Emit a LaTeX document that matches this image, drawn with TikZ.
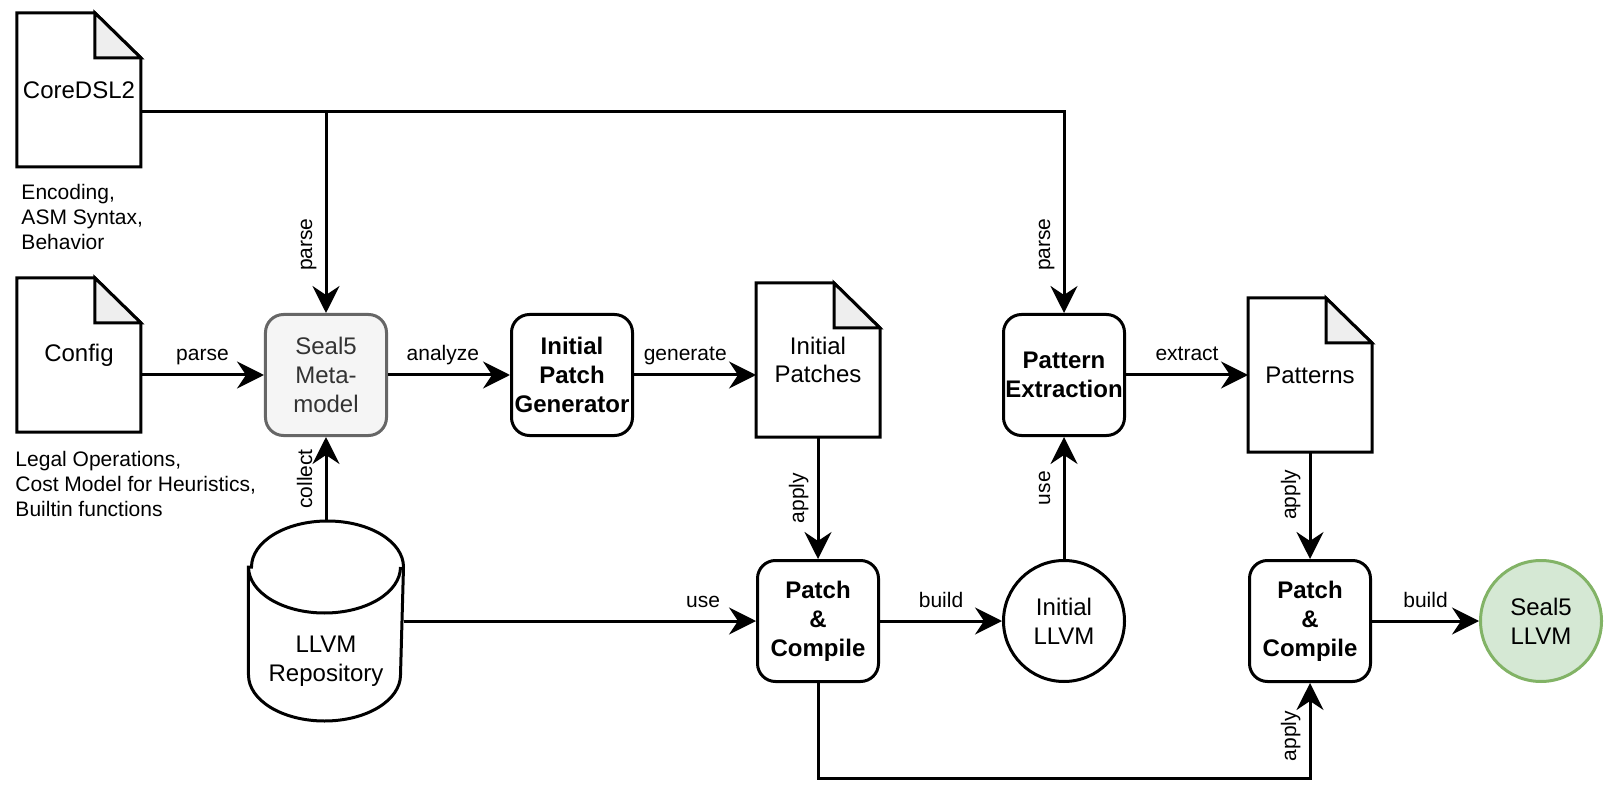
\documentclass[tikz,border=0pt]{standalone}
\usepackage{fontspec}
\setmainfont{Liberation Sans}
\usepackage{tikz}
\usetikzlibrary{positioning, arrows.meta}
\usepackage{xcolor}
\definecolor{metafill}{HTML}{F5F5F5}
\definecolor{metaline}{HTML}{666666}
\definecolor{metatext}{HTML}{333333}
\definecolor{greenfill}{HTML}{D5E8D4}
\definecolor{greenline}{HTML}{82B366}
\definecolor{foldgray}{HTML}{EEEEEE}
\newcommand{\bigfont}{\fontsize{24pt}{28.8pt}\selectfont}
\newcommand{\smallfont}{\fontsize{21pt}{25pt}\selectfont}

\begin{document}
\begin{tikzpicture}[node distance=246pt, ->, >={Stealth[length=27pt, width=27pt, inset=9pt]}, on grid, line width=3pt,
    proc/.style={draw, rounded corners=18pt, minimum width=121pt, minimum height=121pt, align=center, font=\bigfont\bfseries, inner sep=0pt},
    meta/.style={proc, fill=metafill, draw=metaline, text=metatext, font=\bigfont},
    doc/.style={minimum width=121pt, minimum height=151pt, align=center, font=\bigfont, inner sep=0pt},
    docline/.style={-, line join=miter},
    llvm/.style={circle, draw, minimum size=121pt, align=center, font=\bigfont, inner sep=0pt},
    result/.style={llvm, fill=greenfill, draw=greenline},
    repo/.style={minimum width=152pt, minimum height=197pt, inner sep=0pt},
    note/.style={align=left, font=\smallfont, inner sep=0pt, on grid=false},
    lbl/.style={font=\smallfont, text height=15pt, text depth=5pt, inner xsep=0pt, inner ysep=7.5pt, anchor=south},
    vlbl/.style={lbl, rotate=90}]
      \useasboundingbox (-326pt,375pt) rectangle (1298pt,-425pt);
      \node[meta] (meta) {Seal5\\Meta-\\model};
      \node[proc, right=of meta] (gen) {Initial\\Patch\\Generator};
      \node[doc, right=of gen, yshift=15pt] (ipatch) {Initial\\Patches};
      \node[proc, right=492pt of gen] (pext) {Pattern\\Extraction};
      \node[doc, right=of pext] (pat) {Patterns};
      \node[proc, below right=246pt and 246pt of gen] (pc1) {Patch\\\&\\Compile};
      \node[llvm, right=of pc1] (illvm) {Initial\\LLVM};
      \node[proc, right=of illvm] (pc2) {Patch\\\&\\Compile};
      \node[result, right=231pt of pc2] (sllvm) {Seal5\\LLVM};
      \node[repo, below=246pt of meta, label={[align=center, font=\bigfont, yshift=-40pt]center:{LLVM\\Repository}}] (repo) {};
      \node[doc, left=247pt of meta, yshift=20pt] (cfg) {Config};
      \node[doc, above=265pt of cfg] (core) {CoreDSL2};
      \node[note, below right=16pt and 3pt of core.south west] (corenote) {Encoding,\\ASM Syntax,\\Behavior};
      \node[note, below right=18pt and -3pt of cfg.south west] (cfgnote) {Legal Operations,\\Cost Model for Heuristics,\\Builtin functions};
      \foreach \d in {core, cfg, ipatch, pat} {
        \draw[docline] (\d.south west) -- (\d.north west) -- ([xshift=-46pt]\d.north east) -- ([yshift=-45pt]\d.north east) -- (\d.south east) -- cycle;
        \filldraw[docline, fill=foldgray] ([xshift=-46pt]\d.north east) -- ([xshift=-46pt, yshift=-45pt]\d.north east) -- ([yshift=-45pt]\d.north east) -- cycle;
      }
      \draw[docline] ([yshift=-46pt]repo.north west) -- ([yshift=46pt]repo.south west) arc[start angle=180, end angle=360, x radius=76pt, y radius=46pt] -- ([yshift=-46pt]repo.north east) arc[start angle=0, end angle=180, x radius=76pt, y radius=46pt] -- cycle;
      \draw[docline] ([yshift=-46pt]repo.north west) arc[start angle=180, end angle=360, x radius=76pt, y radius=46pt];
      \coordinate (coreout) at ([yshift=-22pt]core.east);
      \draw (coreout) -| node[vlbl, pos=0.83] {parse} (meta);
      \draw (coreout) -| node[vlbl, pos=0.83] {parse} (pext);
      \draw (cfg.east |- meta) -- node[lbl] {parse} (meta);
      \draw (meta) -- node[lbl, pos=0.45] {analyze} (gen);
      \draw (gen) -- node[lbl, pos=0.42] {generate} (gen -| ipatch.west);
      \draw (ipatch) -- node[vlbl] {apply} (pc1);
      \draw (repo) -- node[lbl, pos=0.85] {use} (pc1);
      \draw (repo) -- node[vlbl] {collect} (meta);
      \draw (pc1) -- node[lbl] {build} (illvm);
      \draw (illvm) -- node[vlbl, pos=0.58] {use} (pext);
      \draw (pext) -- node[lbl] {extract} (pat);
      \draw (pat) -- node[vlbl, pos=0.4] {apply} (pc2);
      \draw (pc2) -- node[lbl] {build} (sllvm);
      \draw (pc1.south) -- ++(0,-95pt) -| node[vlbl, pos=0.72] {apply} (pc2.south);
    \end{tikzpicture}
\end{document}
